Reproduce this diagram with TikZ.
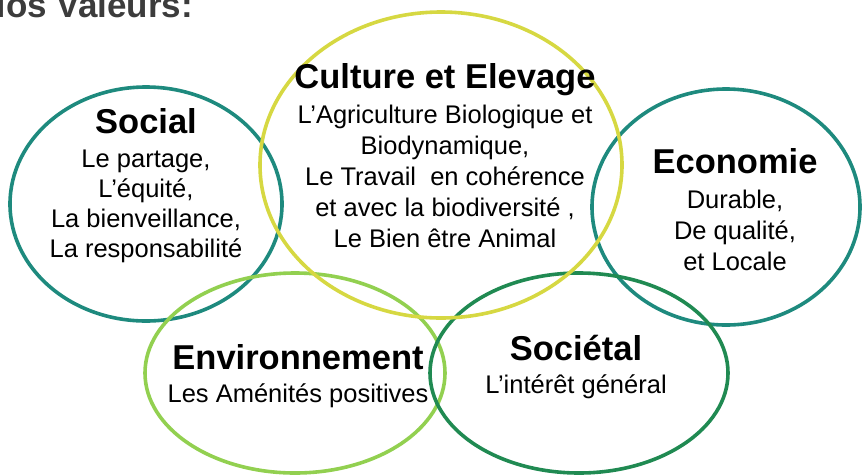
\documentclass[tikz,border=0pt]{standalone}
\usepackage{fontspec}
\setmainfont{Liberation Sans}
\definecolor{tealc}{RGB}{30,138,126}
\definecolor{yellowc}{RGB}{214,216,66}
\definecolor{lightg}{RGB}{146,208,80}
\definecolor{darkg}{RGB}{32,138,82}
\definecolor{titlec}{RGB}{60,60,60}
\begin{document}
\begin{tikzpicture}[x=1pt,y=-1pt,
  ring/.style={line width=3.6pt},
  head/.style={inner sep=0pt,anchor=base,font=\fontsize{34.5}{40}\selectfont\bfseries},
  body/.style={inner sep=0pt,anchor=base,align=center,font=\fontsize{25.5}{30}\selectfont}]
\useasboundingbox (0,0) rectangle (862,475);
\clip (0,0) rectangle (862,475);
% ellipses
\draw[ring,tealc] (146,204) ellipse [x radius=136,y radius=117];
\draw[ring,tealc] (726,207) ellipse [x radius=134,y radius=118];
\draw[ring,lightg] (295,373) ellipse [x radius=150,y radius=100];
\draw[ring,darkg] (579,373) ellipse [x radius=149,y radius=100];
\draw[ring,yellowc] (441,165) ellipse [x radius=181,y radius=153];
% title
\node[inner sep=0pt,anchor=base east,text=titlec,font=\fontsize{35}{40}\selectfont\bfseries] (title) at (193,17) {Nos Valeurs:};
% Social (multi-line nodes: base = last line)
\node[head] (socialh) at (146,133) {Social};
\node[body] (socialb) at (146,257) {Le partage,\\L’équité,\\La bienveillance,\\La responsabilité};
% Culture
\node[head] (cultureh) at (445,88) {Culture et Elevage};
\node[body,font=\fontsize{25.5}{31}\selectfont] (cultureb) at (445,247) {L’Agriculture Biologique et\\Biodynamique,\\Le Travail\ \ en cohérence\\et avec la biodiversité ,\\Le Bien être Animal};
% Economie
\node[head] (ecoh) at (735,173) {Economie};
\node[body,font=\fontsize{25.5}{31}\selectfont] (ecob) at (735,270) {Durable,\\De qualité,\\et Locale};
% Environnement
\node[head] (envh) at (298,369) {Environnement};
\node[body] (envb) at (298,402) {Les Aménités positives};
% Societal
\node[head] (soch) at (576,360) {Sociétal};
\node[body] (socb) at (576,393) {L’intérêt général};
\end{tikzpicture}
\end{document}
